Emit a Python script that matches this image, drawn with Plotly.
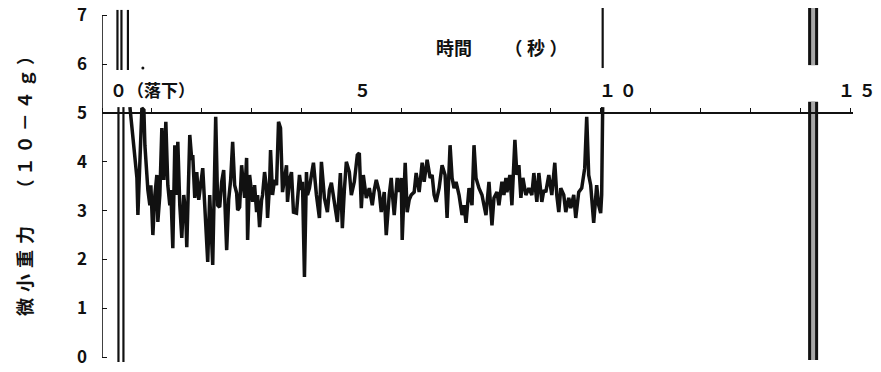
import plotly.graph_objects as go

# ---- data (time in s, microgravity in 1e-4 g) ----
time_s = [0.56, 0.62, 0.66, 0.70, 0.72, 0.76, 0.80, 0.84, 0.86, 0.90, 0.92, 0.96, 0.98, 1.02, 1.06, 1.10,
          1.12, 1.16, 1.20, 1.24, 1.28, 1.32, 1.36, 1.38, 1.42, 1.46, 1.50, 1.52, 1.56, 1.60, 1.64, 1.68,
          1.70, 1.76, 1.80, 1.82, 1.86, 1.90, 1.94, 1.96, 2.02, 2.06, 2.10, 2.12, 2.16, 2.18, 2.22, 2.28,
          2.32, 2.36, 2.40, 2.44, 2.48, 2.50, 2.54, 2.58, 2.62, 2.66, 2.70, 2.72, 2.76, 2.80, 2.82, 2.86,
          2.90, 2.92, 2.96, 3.00, 3.02, 3.06, 3.10, 3.12, 3.16, 3.20, 3.22, 3.26, 3.30, 3.32, 3.36, 3.38,
          3.42, 3.46, 3.50, 3.54, 3.58, 3.62, 3.66, 3.70, 3.72, 3.76, 3.80, 3.84, 3.90, 3.96, 4.00, 4.02,
          4.06, 4.10, 4.12, 4.16, 4.20, 4.24, 4.30, 4.36, 4.40, 4.44, 4.46, 4.52, 4.56, 4.60, 4.66, 4.72,
          4.78, 4.82, 4.86, 4.90, 4.96, 5.00, 5.06, 5.12, 5.16, 5.20, 5.24, 5.30, 5.36, 5.42, 5.46, 5.50,
          5.56, 5.60, 5.66, 5.70, 5.76, 5.80, 5.82, 5.86, 5.92, 5.96, 6.00, 6.02, 6.08, 6.12, 6.16, 6.20,
          6.26, 6.30, 6.36, 6.42, 6.46, 6.52, 6.58, 6.62, 6.66, 6.70, 6.76, 6.82, 6.88, 6.92, 6.98, 7.02,
          7.06, 7.10, 7.16, 7.22, 7.26, 7.30, 7.36, 7.42, 7.46, 7.50, 7.56, 7.62, 7.66, 7.70, 7.76, 7.80,
          7.82, 7.86, 7.92, 7.96, 8.02, 8.06, 8.10, 8.12, 8.18, 8.22, 8.28, 8.32, 8.36, 8.40, 8.44, 8.50,
          8.56, 8.62, 8.66, 8.72, 8.76, 8.82, 8.86, 8.90, 8.96, 9.02, 9.08, 9.12, 9.16, 9.20, 9.26, 9.30,
          9.36, 9.40, 9.46, 9.50, 9.56, 9.62, 9.68, 9.72, 9.76, 9.80, 9.86, 9.92, 9.96, 10.00, 10.02, 10.04]
gravity = [5.12, 4.55, 4.04, 3.67, 2.91, 3.83, 5.10, 5.06, 4.34, 3.73, 3.42, 3.11, 3.52, 2.50, 3.32, 3.73,
           2.77, 3.32, 4.69, 3.63, 4.82, 3.52, 3.11, 3.42, 2.23, 4.34, 3.32, 4.41, 3.11, 2.44, 3.32, 2.91,
           2.25, 4.55, 4.04, 4.14, 3.26, 3.79, 3.22, 3.38, 3.87, 3.11, 2.50, 1.95, 3.32, 2.91, 1.89, 4.92,
           3.11, 3.07, 3.59, 3.83, 2.91, 2.19, 3.22, 3.63, 4.41, 3.52, 3.36, 3.01, 3.07, 3.93, 3.69, 3.26,
           4.08, 2.40, 3.73, 3.32, 3.18, 3.52, 2.97, 3.32, 2.66, 3.22, 3.32, 3.79, 3.46, 2.85, 3.52, 4.24,
           3.32, 3.63, 3.52, 4.82, 4.69, 3.38, 3.73, 3.93, 3.18, 3.63, 3.79, 2.97, 2.95, 3.73, 3.42, 3.59,
           1.64, 3.79, 3.32, 3.46, 3.73, 3.98, 3.32, 2.85, 4.00, 3.42, 3.26, 2.97, 3.42, 3.57, 3.11, 2.77,
           3.77, 2.64, 3.42, 4.00, 3.79, 3.32, 3.59, 4.14, 4.18, 3.05, 3.73, 3.26, 3.46, 3.11, 3.42, 3.63,
           3.38, 2.97, 3.38, 2.50, 3.32, 3.67, 3.38, 2.91, 3.67, 3.38, 3.67, 2.40, 3.98, 2.97, 3.22, 3.32,
           3.38, 3.77, 3.38, 3.98, 3.59, 4.04, 3.67, 3.73, 3.32, 3.18, 3.46, 3.93, 3.73, 2.85, 4.34, 3.67,
           3.46, 3.59, 3.32, 2.91, 3.11, 2.75, 3.46, 3.11, 4.34, 3.67, 3.46, 3.32, 3.11, 2.91, 3.59, 3.11,
           2.70, 3.26, 3.38, 3.11, 3.59, 3.32, 3.67, 3.38, 3.73, 3.11, 4.45, 3.73, 3.93, 3.26, 3.67, 3.32,
           3.46, 3.32, 3.77, 3.18, 3.77, 3.18, 3.42, 3.38, 3.73, 3.32, 3.98, 3.32, 2.97, 3.46, 3.32, 2.97,
           3.26, 3.05, 3.32, 2.85, 3.38, 3.46, 3.87, 4.92, 3.73, 3.52, 2.75, 3.52, 3.11, 2.95, 3.32, 5.12]

# off-scale excursions (drop start, end of microgravity, landing)
drop_x = [0.33, 0.33, None, 0.43, 0.43, None, 0.31, 0.31, None, 0.39, 0.39, None, 0.52, 0.52]
drop_y = [5.12, -0.10, None, 5.12, -0.10, None, 7.11, 5.88, None, 7.11, 5.88, None, 7.11, 5.88]
end_x = [10.04, 10.04]
end_y = [5.92, 7.15]
land_x = [14.26, 14.26, None, 14.26, 14.26]
land_y = [-0.06, 5.23, None, 5.98, 7.15]
dot_x = [0.82]
dot_y = [5.92]

y_ticks = [0, 1, 2, 3, 4, 5, 6, 7]
x_label_pos = [0.12, 5.02, 9.92, 14.72]
x_label_txt = ["０（落下）", "５", "１ ０", "１ ５"]

Y_MIN, Y_MAX = -0.12, 7.17
X_MIN, X_MAX = 0.0, 15.06
FONT = "Noto Sans CJK JP"

fig = go.Figure()
fig.add_trace(go.Scatter(x=time_s, y=gravity, mode="lines",
                         line=dict(color="#111111", width=3.5), hoverinfo="skip"))
fig.add_trace(go.Scatter(x=drop_x, y=drop_y, mode="lines",
                         line=dict(color="#111111", width=2.2), hoverinfo="skip"))
fig.add_trace(go.Scatter(x=end_x, y=end_y, mode="lines",
                         line=dict(color="#111111", width=2.2), hoverinfo="skip"))
fig.add_trace(go.Scatter(x=land_x, y=land_y, mode="lines",
                         line=dict(color="#111111", width=10), hoverinfo="skip"))
fig.add_trace(go.Scatter(x=land_x, y=land_y, mode="lines",
                         line=dict(color="#a8a8a8", width=4), hoverinfo="skip"))
fig.add_trace(go.Scatter(x=dot_x, y=dot_y, mode="markers",
                         marker=dict(color="#111111", size=3), hoverinfo="skip"))

# y axis line from 0 to 7
fig.add_shape(type="line", xref="x", yref="y", x0=0, x1=0, y0=0, y1=7,
              line=dict(color="#111111", width=1.6))

annotations = []
for xp, txt in zip(x_label_pos, x_label_txt):
    annotations.append(dict(x=xp, y=5.49, xref="x", yref="y", text=txt, showarrow=False,
                            xanchor="left", yanchor="middle",
                            font=dict(family=FONT, size=17, color="#111111", weight="bold")))
annotations.append(dict(x=6.66, y=6.35, xref="x", yref="y",
                        text="時間　 \u2004\u2005（\u2005秒\u2005）", showarrow=False,
                        xanchor="left", yanchor="middle",
                        font=dict(family=FONT, size=18, color="#111111", weight="bold")))
annotations.append(dict(x=-0.103, y=0.51, xref="paper", yref="paper",
                        text="微\u2004小\u2004重\u2004力　\u2004\u2005（ １ ０ － ４ ｇ ）",
                        textangle=-90, showarrow=False,
                        xanchor="center", yanchor="middle",
                        font=dict(family=FONT, size=18, color="#111111", weight="bold")))

fig.update_layout(
    width=881, height=372,
    margin=dict(l=102, r=28, t=7, b=9, autoexpand=False),
    paper_bgcolor="white", plot_bgcolor="white",
    showlegend=False,
    annotations=annotations,
    xaxis=dict(range=[X_MIN, X_MAX], anchor="free", automargin=False,
               position=(5 - Y_MIN) / (Y_MAX - Y_MIN), side="top",
               showline=True, linecolor="#111111", linewidth=2,
               ticks="outside", ticklen=4, tickwidth=1.4, tickcolor="#111111",
               tick0=0, dtick=1, showticklabels=False,
               showgrid=False, zeroline=False),
    yaxis=dict(range=[Y_MIN, Y_MAX], showline=False, automargin=False,
               tickvals=y_ticks, ticks="inside", ticklen=5, tickwidth=1.4, tickcolor="#111111",
               ticklabelstandoff=14,
               tickfont=dict(family=FONT, size=17, color="#111111", weight="bold"),
               showgrid=False, zeroline=False),
)

fig.write_html("out.html", config={"displayModeBar": False},
               post_script="document.body.style.margin='0px';document.body.style.overflow='hidden';")
